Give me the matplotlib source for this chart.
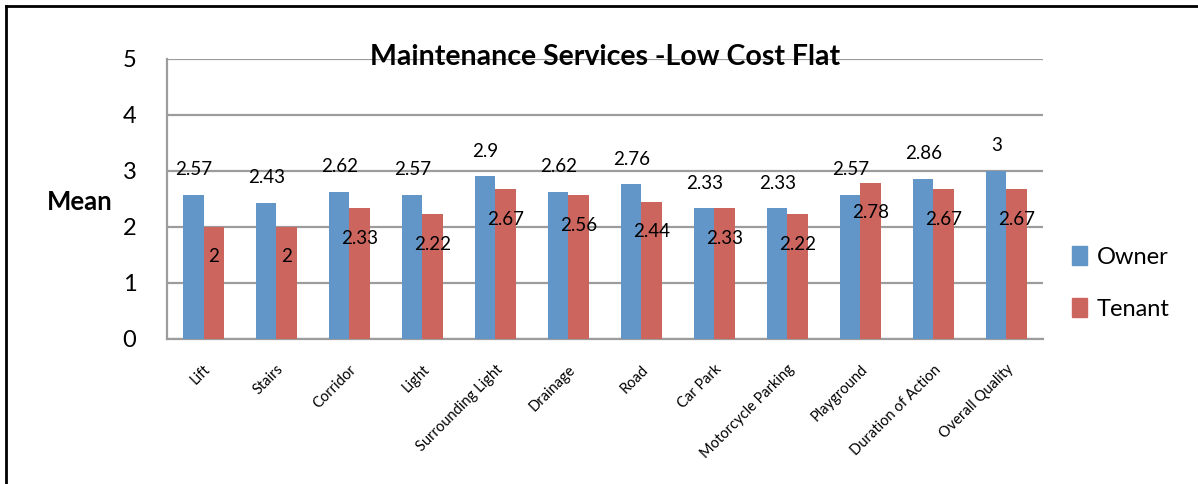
import numpy as np
import matplotlib.pyplot as plt
from matplotlib.lines import Line2D
from matplotlib.patches import Patch

plt.rcParams['font.family'] = ['Lato', 'DejaVu Sans']

categories = ['Lift', 'Stairs', 'Corridor', 'Light', 'Surrounding Light', 'Drainage',
              'Road', 'Car Park', 'Motorcycle Parking', 'Playground',
              'Duration of Action', 'Overall Quality']
owner = [2.57, 2.43, 2.62, 2.57, 2.9, 2.62, 2.76, 2.33, 2.33, 2.57, 2.86, 3]
tenant = [2, 2, 2.33, 2.22, 2.67, 2.56, 2.44, 2.33, 2.22, 2.78, 2.67, 2.67]
yticks = [0, 1, 2, 3, 4, 5]

blue = '#6296C9'
red = '#CD655F'
grid = '#9c9c9c'

fig = plt.figure(figsize=(11.98, 4.84), dpi=100)
ax = fig.add_axes([0.1394, 0.3002, 0.7312, 0.5785])

x = np.arange(len(categories))
w = 0.28
ax.bar(x - w / 2, owner, w, color=blue, zorder=3)
ax.bar(x + w / 2, tenant, w, color=red, zorder=3)

for i in range(len(categories)):
    ax.annotate(f'{owner[i]:g}', (x[i] - w / 2, owner[i]), xytext=(0, 18),
                textcoords='offset points', ha='center', va='center', fontsize=13.5)
    ax.annotate(f'{tenant[i]:g}', (x[i] + w / 2, tenant[i]), xytext=(0, -21.5),
                textcoords='offset points', ha='center', va='center', fontsize=13.5)

ax.set_xlim(-0.5, len(categories) - 0.5)
ax.set_ylim(0, 5)
ax.set_yticks(yticks)
ax.set_yticklabels([str(t) for t in yticks], fontsize=17)
ax.yaxis.grid(True, color=grid, linewidth=1.6, zorder=0)
ax.set_xticks(x)
ax.set_xticklabels(categories, rotation=45, ha='right', rotation_mode='anchor', fontsize=10.5)
ax.tick_params(axis='x', length=0, pad=17)
ax.tick_params(axis='y', length=0, pad=22)
for side in ['top', 'right']:
    ax.spines[side].set_visible(False)
for side in ['left', 'bottom']:
    ax.spines[side].set_color(grid)
    ax.spines[side].set_linewidth(1.6)

ax.set_ylabel('Mean', fontsize=18.5, fontweight='bold', rotation=0, va='center')
ax.yaxis.set_label_coords(-0.1, 0.49)

# title sits right on the top gridline
ax.text(0.5, 1.005, 'Maintenance Services -Low Cost Flat', transform=ax.transAxes,
        fontsize=20.5, fontweight='bold', ha='center', va='center', zorder=5)

handles = [Patch(color=blue, label='Owner'), Patch(color=red, label='Tenant')]
fig.legend(handles=handles, loc='center left', bbox_to_anchor=(0.877, 0.415), frameon=False,
           fontsize=17, handlelength=0.65, handleheight=0.85, handletextpad=0.4, labelspacing=1.3)

# outer frame (only top and left edges fall inside the image)
fig.add_artist(Line2D([0.005, 1.0], [0.9876, 0.9876], color='black', linewidth=2,
                      transform=fig.transFigure))
fig.add_artist(Line2D([0.005, 0.005], [0.0, 0.9876], color='black', linewidth=2,
                      transform=fig.transFigure))

fig.savefig('out.png', dpi=100)
